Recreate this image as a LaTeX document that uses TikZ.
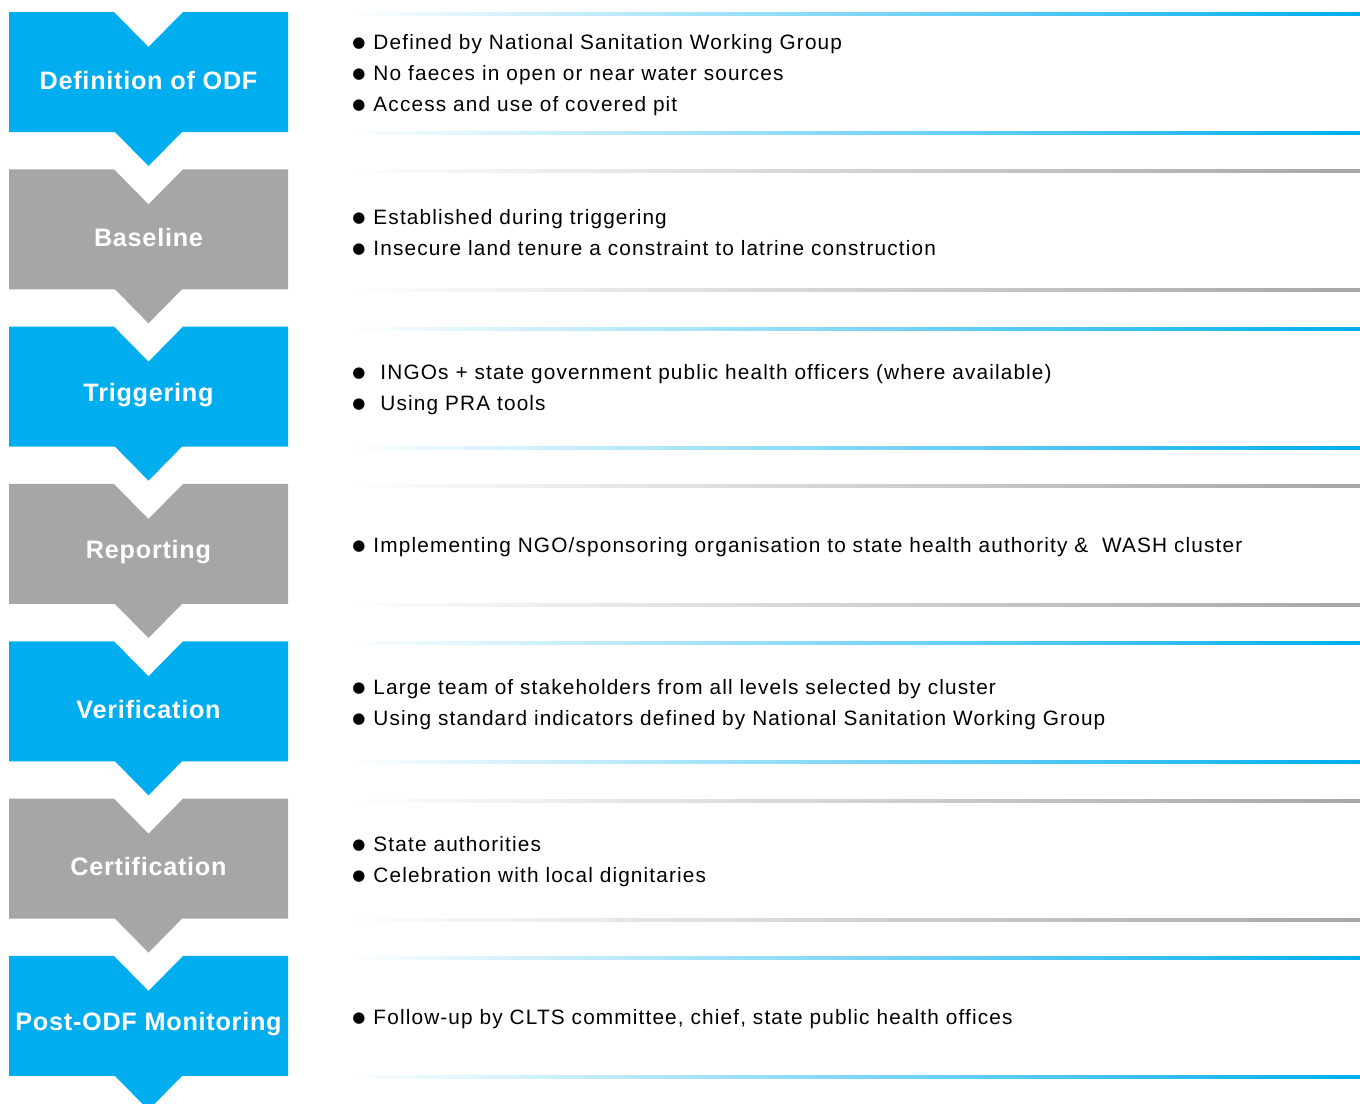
\documentclass[tikz,border=0pt]{standalone}
\usepackage{fontspec}
\setmainfont[LetterSpace=5.5]{Liberation Sans}
\newfontfamily\stagefont[LetterSpace=3]{Liberation Sans}
\newfontfamily\symfont{DejaVu Sans}
\usetikzlibrary{positioning}
\definecolor{odfblue}{RGB}{0,174,239}
\definecolor{odfgray}{RGB}{167,166,166}
\newcommand{\bul}{\raisebox{1pt}{\symfont\fontsize{7.5}{7.5}\selectfont ●}\hspace{4pt}}

\begin{document}
\begin{tikzpicture}[x=0.5pt,y=-0.5pt]

    \tikzset{
      stage/.style={
        text=white,
        font=\stagefont\bfseries\fontsize{12.6}{14}\selectfont,
        inner sep=0pt,
      },
      info/.style={
        anchor=west,
        align=left,
        inner sep=0pt,
        font=\fontsize{10.4}{15.5}\selectfont,
      },
    }
    \useasboundingbox (0,0) rectangle (1360,1103);
    \clip (0,0) rectangle (1360,1103);
    \foreach \i/\col/\title/\items in {
      0/odfblue/{Definition of ODF}/{\bul Defined by National Sanitation Working Group\\ \bul No faeces in open or near water sources\\ \bul Access and use of covered pit},
      1/odfgray/{Baseline}/{\bul Established during triggering\\ \bul Insecure land tenure a constraint to latrine construction},
      2/odfblue/{Triggering}/{\bul\hspace{3.5pt}INGOs + state government public health officers (where available)\\ \bul\hspace{3.5pt}Using PRA tools},
      3/odfgray/{Reporting}/{\bul Implementing NGO/sponsoring organisation to state health authority \&\ \ WASH cluster},
      4/odfblue/{Verification}/{\bul Large team of stakeholders from all levels selected by cluster\\ \bul Using standard indicators defined by National Sanitation Working Group},
      5/odfgray/{Certification}/{\bul State authorities\\ \bul Celebration with local dignitaries},
      6/odfblue/{Post-ODF Monitoring}/{\bul Follow-up by CLTS committee, chief, state public health offices}}
    {
      \pgfmathsetmacro{\t}{12+157.33*\i}
      % chevron
      \fill[\col] (9,\t) -- (114,\t) -- (148.5,\t+35) -- (183,\t) -- (288,\t) -- (288,\t+120)
        -- (182,\t+120) -- (148.5,\t+154) -- (115,\t+120) -- (9,\t+120) -- cycle;
      \node[stage] (stage\i) at (148.5,\t+68) {\title};
      % rules
      \shade[left color=white, right color=\col] (345,\t+0.5) rectangle (1360,\t+3.5);
      \shade[left color=white, right color=\col] (345,\t+119.5) rectangle (1360,\t+122.5);
      \node[info] (info\i) at (352,\t+63) {\items};
    }

\end{tikzpicture}
\end{document}
